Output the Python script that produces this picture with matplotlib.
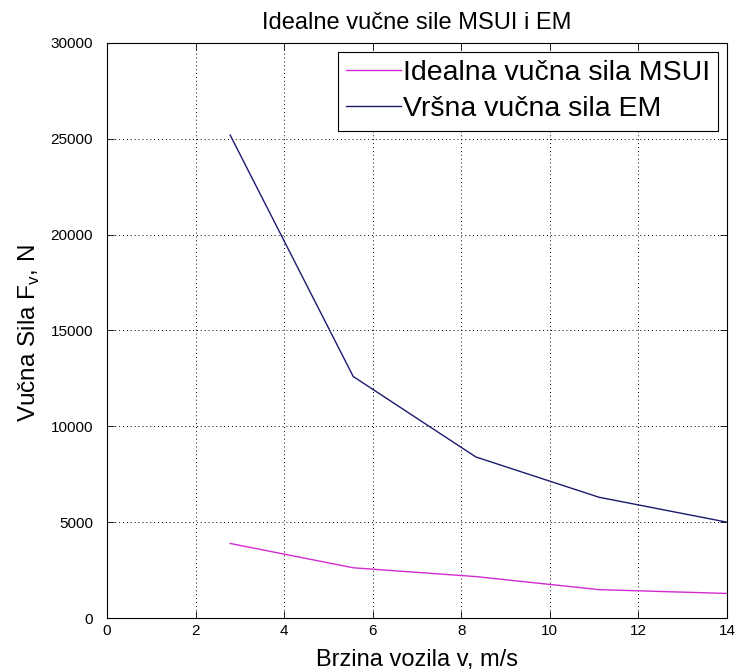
import matplotlib
matplotlib.use("Agg")
import matplotlib.pyplot as plt

# Data
speed = [2.78, 5.56, 8.33, 11.11, 14.0]
f_msui = [3890, 2620, 2160, 1480, 1280]
f_em = [25200, 12600, 8400, 6300, 5000]

title = "Idealne vučne sile MSUI i EM"
xlabel = "Brzina vozila v, m/s"
ylabel = r"Vučna Sila F$_\mathregular{v}$, N"
labels = ["Idealna vučna sila MSUI", "Vršna vučna sila EM"]
xticks = [0, 2, 4, 6, 8, 10, 12, 14]
yticks = [0, 5000, 10000, 15000, 20000, 25000, 30000]

plt.rcParams['font.family'] = ['Liberation Sans', 'DejaVu Sans']
plt.rcParams['mathtext.fontset'] = 'custom'
plt.rcParams['mathtext.rm'] = 'Liberation Sans'

fig = plt.figure(figsize=(7.37, 6.72), dpi=100)
ax = fig.add_axes([107/737, 54/672, 620/737, 575/672])

ax.plot(speed, f_msui, color='#d22ad2', lw=1.0, label=labels[0])
ax.plot(speed, f_em, color='#1a1a6e', lw=1.0, label=labels[1])

ax.set_xlim(0, 14)
ax.set_ylim(0, 30000)
ax.set_xticks(xticks)
ax.set_yticks(yticks)
ax.set_xticklabels([str(t) for t in xticks])
ax.set_yticklabels([str(t) for t in yticks])
ax.tick_params(direction='in', length=5, width=0.6, top=True, right=True,
               labelsize=11)
ax.tick_params(axis='x', pad=4)
ax.tick_params(axis='y', pad=10)
ax.grid(True, linestyle=(0, (1, 3)), color='black', lw=0.7)
for s in ax.spines.values():
    s.set_linewidth(0.8)

ax.set_title(title, fontsize=17, pad=10)
ax.set_xlabel(xlabel, fontsize=17, labelpad=8)
ax.set_ylabel(ylabel, fontsize=17.5)
ax.yaxis.set_label_coords(-0.105, 0.495)

leg = ax.legend(loc='upper right', fontsize=20.5, fancybox=False, framealpha=1,
                edgecolor='black', handlelength=1.93, handletextpad=0.05,
                labelspacing=0.35, borderpad=0.3, borderaxespad=0.3)
leg.get_frame().set_linewidth(0.8)

fig.savefig("out.png", dpi=100)
